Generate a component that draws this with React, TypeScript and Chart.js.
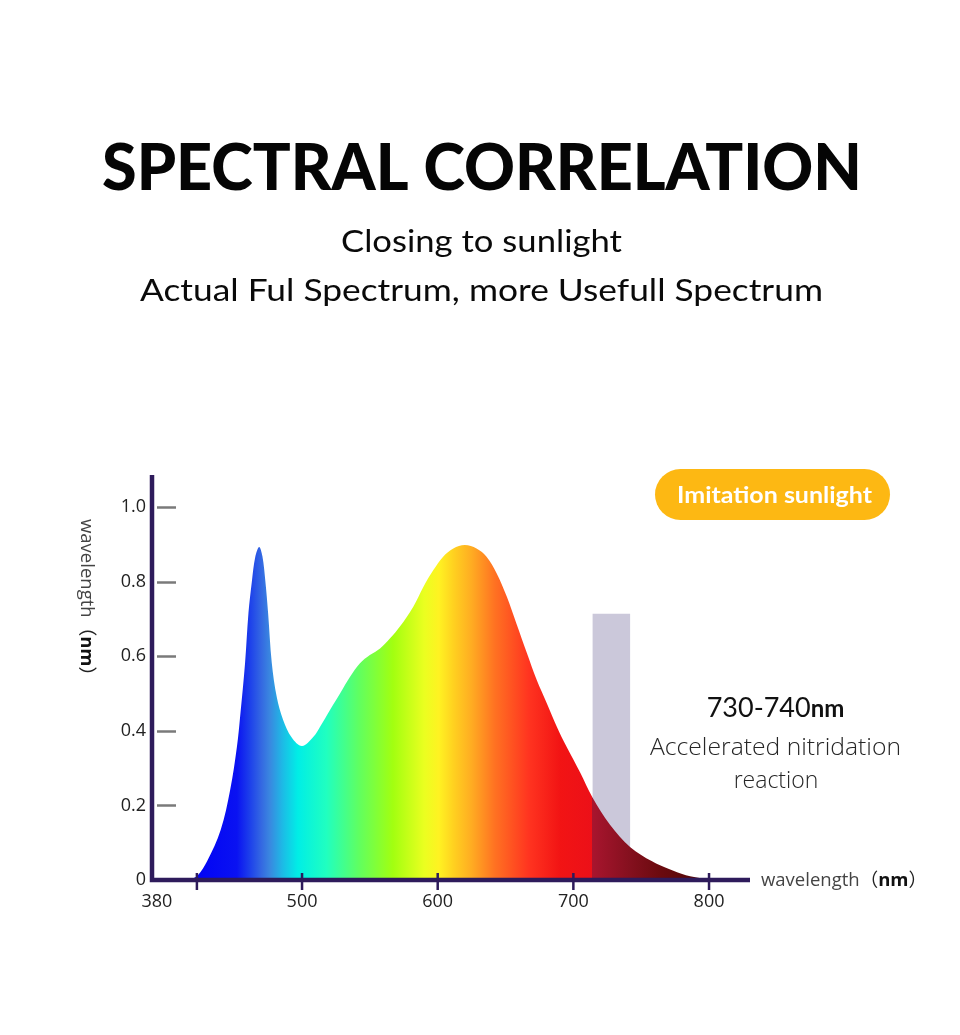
import React, { useEffect, useRef } from 'react';
import { Chart, registerables } from 'chart.js';

Chart.register(...registerables);

// ---- data ----
const wavelengths = [
  417, 423, 430, 440, 447, 452, 454.4, 458, 460.5, 463, 465.5, 468.4, 470.8, 473, 475, 477.7, 481.4, 486, 492.4,
  500, 508.4, 513.3, 520.6, 528, 535.4, 542.7, 550, 557.5, 564.9, 572, 582, 589.4, 596.8, 604, 611.5, 620, 628.6,
  636, 643.5, 650.9, 658, 665.8, 673, 680.4, 687.8, 695, 705, 714, 727, 742, 758, 770, 783, 795, 802,
];
const intensity = [
  0, 0.012, 0.05, 0.134, 0.241, 0.357, 0.44, 0.582, 0.716, 0.8, 0.866, 0.893, 0.868, 0.8, 0.715, 0.582, 0.49, 0.43, 0.382,
  0.359, 0.384, 0.411, 0.456, 0.5, 0.545, 0.581, 0.603, 0.621, 0.648, 0.679, 0.733, 0.786, 0.831, 0.867, 0.889, 0.898, 0.889,
  0.867, 0.822, 0.76, 0.688, 0.608, 0.536, 0.474, 0.411, 0.357, 0.288, 0.222, 0.148, 0.088, 0.05, 0.03, 0.013, 0.004, 0,
];
const farRedRange = [714, 742];
const farRedLevel = [0.714, 0.714];

const xMin = 389.4;
const xMax = 830.2;
const yMax = 1.086;
const xTickValues = [393, 500, 600, 700, 800];
const xTickLabels = ['380', '500', '600', '700', '800'];
const xTickMarks = [422.5, 500, 600, 700, 800];
const yTickValues = [0, 0.2, 0.4, 0.6, 0.8, 1.0];
const yTickLabels = ['0', '0.2', '0.4', '0.6', '0.8', '1.0'];

const titleText = 'SPECTRAL CORRELATION';
const subtitleLines = ['Closing to sunlight', 'Actual Ful Spectrum, more Usefull Spectrum'];
const badgeText = 'Imitation sunlight';
const noteHeadline = ['730-740', 'nm'];
const noteLines = ['Accelerated nitridation', 'reaction'];
const axisTitleParts = ['wavelength', '（', 'nm', '）'];

// ---- styles ----
const spectrumStops: [number, string][] = [
  [417, '#0000f5'], [452, '#0a12f2'], [462, '#1e42ea'], [470, '#3468e2'], [476, '#3a86e0'], [486, '#1cbce6'],
  [497, '#00eee6'], [518, '#20ffc0'], [542, '#60ff60'], [567, '#a2ff10'], [590, '#eaff20'], [601, '#fff222'],
  [612, '#ffd020'], [625, '#ffac22'], [642, '#ff7222'], [667, '#ff3420'], [690, '#f21414'], [713.6, '#ec1018'],
  [714, '#a8152e'], [742, '#84101e'], [765, '#6a0a0e'], [802, '#4a0606'],
];
const AXIS_COLOR = '#2e1b5b';
const SANS = '"Open Sans", "Noto Sans", sans-serif';
const CJK = '"Open Sans", "Noto Sans CJK SC", sans-serif';
const GEO = 'Lato, "Open Sans", sans-serif';

function drawFitted(ctx: CanvasRenderingContext2D, text: string, cx: number, baseline: number, font: string, color: string, width: number) {
  ctx.save();
  ctx.font = font;
  ctx.fillStyle = color;
  ctx.textAlign = 'center';
  ctx.textBaseline = 'alphabetic';
  const w = ctx.measureText(text).width;
  const s = w > 0 ? width / w : 1;
  ctx.translate(cx, baseline);
  ctx.scale(s, 1);
  ctx.fillText(text, 0, 0);
  ctx.restore();
}

function drawRun(ctx: CanvasRenderingContext2D, parts: { t: string; font: string; color: string }[], x: number, y: number) {
  let cx = x;
  for (const p of parts) {
    ctx.font = p.font;
    ctx.fillStyle = p.color;
    ctx.fillText(p.t, cx, y);
    cx += ctx.measureText(p.t).width;
  }
}

const axesPlugin = {
  id: 'axesOverlay',
  afterDatasetsDraw(chart: any) {
    const { ctx, chartArea, scales } = chart;
    const { left, right, top, bottom } = chartArea;
    ctx.save();
    // y tick marks (inside)
    ctx.strokeStyle = '#7a7a7a';
    ctx.lineWidth = 2.5;
    yTickValues.forEach((v) => {
      if (v === 0) return;
      const y = Math.round(scales.y.getPixelForValue(v)) + 0.5;
      ctx.beginPath();
      ctx.moveTo(left + 5, y);
      ctx.lineTo(left + 24, y);
      ctx.stroke();
    });
    // axis lines
    ctx.strokeStyle = AXIS_COLOR;
    ctx.lineWidth = 4.5;
    ctx.beginPath();
    ctx.moveTo(left, top);
    ctx.lineTo(left, bottom + 2.2);
    ctx.moveTo(left - 2.2, bottom);
    ctx.lineTo(right, bottom);
    ctx.stroke();
    // x tick marks (crossing the axis)
    ctx.lineWidth = 2.5;
    xTickMarks.forEach((v) => {
      const x = scales.x.getPixelForValue(v);
      ctx.beginPath();
      ctx.moveTo(x, bottom - 7);
      ctx.lineTo(x, bottom + 10);
      ctx.stroke();
    });
    ctx.restore();
  },
};

const textPlugin = {
  id: 'textOverlay',
  afterDraw(chart: any) {
    const ctx: CanvasRenderingContext2D = chart.ctx;
    const { chartArea } = chart;
    ctx.save();
    // headline
    drawFitted(ctx, titleText, 482, 190, `900 64px ${GEO}`, '#050505', 760);
    drawFitted(ctx, subtitleLines[0], 481.5, 252, `400 31px ${GEO}`, '#0a0a0a', 281);
    drawFitted(ctx, subtitleLines[1], 481.5, 301, `400 31px ${GEO}`, '#0a0a0a', 683);

    // badge
    ctx.fillStyle = '#fdb813';
    ctx.beginPath();
    (ctx as any).roundRect(655, 469, 235, 51, 25.5);
    ctx.fill();
    drawFitted(ctx, badgeText, 774.5, 502.5, `700 23px ${GEO}`, '#ffffff', 195);

    // note
    ctx.textAlign = 'left';
    ctx.textBaseline = 'alphabetic';
    const f1 = `400 27px ${GEO}`;
    const f2 = `700 24px ${GEO}`;
    ctx.font = f1;
    const w1 = ctx.measureText(noteHeadline[0]).width;
    ctx.font = f2;
    const w2 = ctx.measureText(noteHeadline[1]).width;
    drawRun(ctx, [
      { t: noteHeadline[0], font: f1, color: '#111' },
      { t: noteHeadline[1], font: f2, color: '#111' },
    ], 775.5 - (w1 + w2) / 2, 716.5);
    drawFitted(ctx, noteLines[0], 775.5, 755, `300 23px ${SANS}`, '#262626', 251);
    ctx.font = `300 23px ${SANS}`;
    ctx.fillStyle = '#262626';
    ctx.textAlign = 'center';
    ctx.fillText(noteLines[1], 776, 788);

    // axis titles
    const parts = [
      { t: axisTitleParts[0], font: `400 18.5px ${SANS}`, color: '#444' },
      { t: axisTitleParts[1], font: `400 18.5px ${CJK}`, color: '#222' },
      { t: axisTitleParts[2], font: `700 18.5px ${SANS}`, color: '#111' },
      { t: axisTitleParts[3], font: `400 18.5px ${CJK}`, color: '#222' },
    ];
    ctx.textAlign = 'left';
    ctx.textBaseline = 'middle';
    drawRun(ctx, parts, chartArea.right + 11, chartArea.bottom + 1);

    ctx.save();
    ctx.translate(81, 519);
    ctx.rotate(Math.PI / 2);
    ctx.textBaseline = 'alphabetic';
    drawRun(ctx, parts, 0, 0);
    ctx.restore();

    ctx.restore();
  },
};

export default function App() {
  const ref = useRef<HTMLCanvasElement | null>(null);
  useEffect(() => {
    document.body.style.margin = '0';
    const canvas = ref.current;
    if (!canvas) return;
    const chart = new Chart(canvas, {
      type: 'line',
      data: {
        datasets: [
          {
            label: 'spectrum',
            data: wavelengths.map((x, i) => ({ x, y: intensity[i] })),
            fill: 'origin',
            backgroundColor: (c: any) => {
              const ch = c.chart;
              if (!ch.chartArea) return 'rgba(0,0,0,0)';
              const xs = ch.scales.x;
              const x0 = xs.getPixelForValue(spectrumStops[0][0]);
              const x1 = xs.getPixelForValue(spectrumStops[spectrumStops.length - 1][0]);
              const g = ch.ctx.createLinearGradient(x0, 0, x1, 0);
              spectrumStops.forEach(([nm, col]) => {
                const p = (xs.getPixelForValue(nm) - x0) / (x1 - x0);
                g.addColorStop(Math.min(1, Math.max(0, p)), col);
              });
              return g;
            },
            borderColor: 'rgba(0,0,0,0)',
            borderWidth: 0,
            pointRadius: 0,
            tension: 0.35,
            order: 0,
          } as any,
          {
            label: '730-740nm',
            data: farRedRange.map((x, i) => ({ x, y: farRedLevel[i] })),
            fill: 'origin',
            backgroundColor: '#cbc8da',
            borderColor: 'rgba(0,0,0,0)',
            borderWidth: 0,
            pointRadius: 0,
            tension: 0,
            order: 1,
          } as any,
        ],
      },
      options: {
        responsive: false,
        maintainAspectRatio: false,
        animation: false,
        events: [],
        layout: { padding: { top: 475, left: 0, right: 210, bottom: 0 } },
        plugins: {
          legend: { display: false },
          tooltip: { enabled: false },
          title: { display: false },
        },
        scales: {
          x: {
            type: 'linear',
            min: xMin,
            max: xMax,
            grid: { display: false, drawTicks: false },
            border: { display: false },
            afterFit: (s: any) => { s.height = 155; },
            afterBuildTicks: (s: any) => { s.ticks = xTickValues.map((v) => ({ value: v })); },
            ticks: {
              autoSkip: false,
              maxRotation: 0,
              padding: 11,
              color: '#222',
              font: { family: SANS, size: 18 },
              callback: (_v: any, i: number) => xTickLabels[i],
            },
          },
          y: {
            type: 'linear',
            min: 0,
            max: yMax,
            grid: { display: false, drawTicks: false },
            border: { display: false },
            afterFit: (s: any) => { s.width = 152; },
            afterBuildTicks: (s: any) => { s.ticks = yTickValues.map((v) => ({ value: v })); },
            ticks: {
              autoSkip: false,
              padding: 6,
              color: '#222',
              font: { family: SANS, size: 18 },
              callback: (_v: any, i: number) => yTickLabels[i],
            },
          },
        },
      } as any,
      plugins: [axesPlugin, textPlugin],
    });
    return () => chart.destroy();
  }, []);
  return (
    <div style={{ width: 960, height: 1035, background: '#fff' }}>
      <canvas ref={ref} width={960} height={1035} style={{ display: 'block', width: 960, height: 1035 }} />
    </div>
  );
}
